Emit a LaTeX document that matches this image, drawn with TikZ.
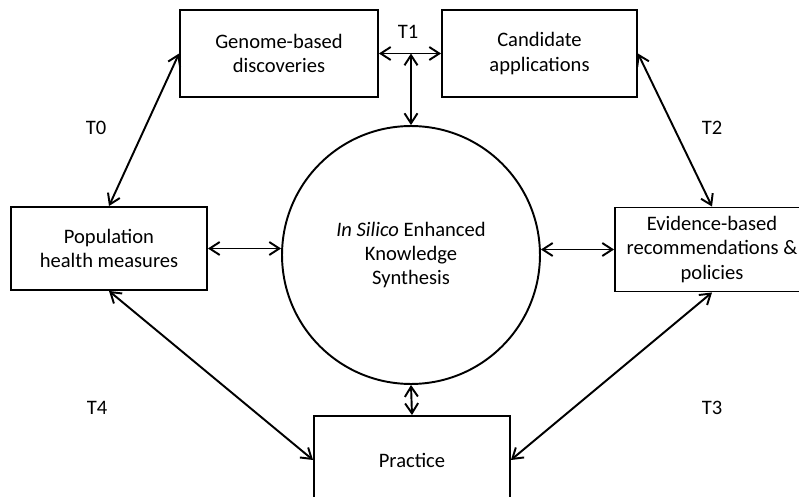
\documentclass[tikz,border=0pt]{standalone}
\usepackage{fontspec}
\setmainfont{Carlito}
\usetikzlibrary{arrows.meta}

\begin{document}
\begin{tikzpicture}[x=0.02cm, y=-0.02cm,
	box/.style={draw, line width=1.1pt, align=center, inner sep=0pt},
	lbl/.style={inner sep=0pt},
	link/.style={<->, line width=1.1pt},
	>={Straight Barb[length=2mm,width=2.6mm]},
	font=\fontsize{11.7}{13.8}\selectfont]
	\useasboundingbox (0,0) rectangle (799,497);
	\node[draw, circle, line width=1.1pt, minimum size=5.16cm, inner sep=0pt, align=center] (circ) at (411,255) {\textit{In Silico} Enhanced\\Knowledge\\Synthesis};
	\node[box, minimum width=3.96cm, minimum height=1.74cm] (genome) at (279,53.5) {Genome-based\\discoveries};
	\node[box, minimum width=3.9cm, minimum height=1.74cm] (cand) at (539.5,53.5) {Candidate\\applications};
	\node[box, minimum width=3.92cm, minimum height=1.66cm] (pop) at (109,248.5) {Population\\health measures};
	\node[box, minimum width=3.88cm, minimum height=1.68cm] (evid) at (712,249.5) {Evidence-based\\recommendations \&\\policies};
	\node[box, minimum width=3.92cm, minimum height=1.76cm] (prac) at (412,460) {Practice};
	\node[lbl] (t0) at (96,128) {T0};
	\node[lbl] (t1) at (408,32) {T1};
	\node[lbl] (t2) at (712,128) {T2};
	\node[lbl] (t3) at (712,408) {T3};
	\node[lbl] (t4) at (97,408) {T4};
	\draw[link] (genome.east) -- (cand.west);
	\draw[link] (circ.north |- genome.east) -- (circ.north);
	\draw[link] (genome.west) -- (pop.north);
	\draw[link] (cand.east) -- (evid.north);
	\draw[link] (pop.east) -- (pop.east -| circ.west);
	\draw[link] (evid.west -| circ.east) -- (evid.west);
	\draw[link] (circ.south) -- (prac.north);
	\draw[link] (pop.south) -- (prac.west);
	\draw[link] (evid.south) -- (prac.east);
\end{tikzpicture}
\end{document}
